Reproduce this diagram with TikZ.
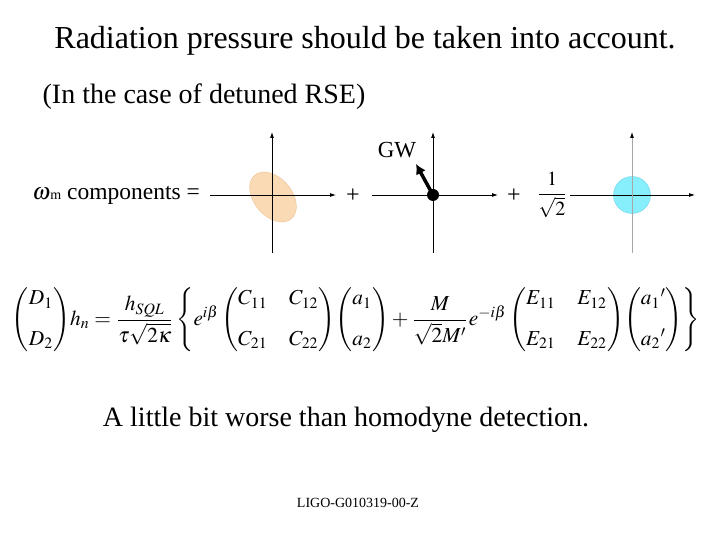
\documentclass[tikz,border=0pt]{standalone}
\usepackage{amsmath}
\usepackage{mathptmx}
\usepackage{fontspec}
\setmainfont{Liberation Serif}
\usetikzlibrary{arrows.meta}
\definecolor{peach}{RGB}{250,218,180}
\definecolor{peachline}{RGB}{235,195,150}
\definecolor{cyanfill}{RGB}{135,238,252}
\definecolor{cyanline}{RGB}{110,210,230}
\tikzset{
  axis/.style={line width=0.8pt,-{Latex[length=6pt,width=4pt]}},
  txt/.style={inner sep=0pt,anchor=center}
}
\begin{document}
\begin{tikzpicture}[x=1pt,y=1pt]
\useasboundingbox (0,0) rectangle (720,540);
\node[txt,font=\fontsize{32}{36}\selectfont] (title) at (365,499) {Radiation pressure should be taken into account.};
\node[txt,font=\fontsize{28}{32}\selectfont] (sub) at (204,443) {(In the case of detuned RSE)};
\node[txt,anchor=east,font=\fontsize{23.5}{26}\selectfont] (lab) at (200,345) {$\omega$\raisebox{0pt}{\fontsize{14}{16}\selectfont m} components =};
% diagram 1
\fill[peach,draw=peachline,rotate around={-50:(273,343)}] (273,343) ellipse (28.5 and 19);
\coordinate (a1l) at (210,345); \coordinate (a1r) at (336,345);
\coordinate (a1b) at (272,287); \coordinate (a1t) at (272,408);
\draw[axis] (a1l) -- (a1r);
\draw[axis] (a1b) -- (a1t);
\node[txt,font=\fontsize{24}{28}\selectfont] (p1) at (353,344) {+};
% diagram 2
\coordinate (a2l) at (372,345); \coordinate (a2r) at (498,345);
\coordinate (a2b) at (433,287); \coordinate (a2t) at (433,408);
\draw[axis] (a2l) -- (a2r);
\draw[axis] (a2b) -- (a2t);
\node[circle,fill=black,minimum size=12pt,inner sep=0pt] (dot) at (433,345) {};
\coordinate (gwtip) at (416,376);
\draw[line width=3.5pt,-{Latex[length=10pt,width=11pt]}] (dot.center) -- (gwtip);
\node[txt,font=\fontsize{23}{26}\selectfont] (gw) at (397,390) {GW};
\node[txt,font=\fontsize{24}{28}\selectfont] (p2) at (514,344) {+};
\node[txt,font=\fontsize{20}{24}\selectfont] (frac) at (552,345) {$\dfrac{1}{\sqrt{2}}$};
% diagram 3
\fill[cyanfill,draw=cyanline] (632,345) circle (18.5);
\coordinate (a3l) at (570,345); \coordinate (a3r) at (695,345);
\coordinate (a3b) at (632,287); \coordinate (a3t) at (632,408);
\draw[axis] (a3l) -- (a3r);
\draw[line width=0.8pt,draw=gray!70,arrows={-Latex[length=6pt,width=4pt,color=black]}] (a3b) -- (a3t);
% equation
\node[txt] (eq) at (356,220) {\resizebox{688pt}{!}{$\begin{pmatrix} D_1\\[7pt] D_2\end{pmatrix}\! h_n=\dfrac{h_{SQL}}{\tau\sqrt{2\kappa}}\left\{e^{i\beta}\begin{pmatrix} C_{11} & C_{12}\\[7pt] C_{21} & C_{22}\end{pmatrix}\!\begin{pmatrix} a_1\\[7pt] a_2\end{pmatrix}+\dfrac{M}{\sqrt{2}M'}e^{-i\beta}\begin{pmatrix} E_{11} & E_{12}\\[7pt] E_{21} & E_{22}\end{pmatrix}\!\begin{pmatrix} {a_1}'\\[7pt] {a_2}'\end{pmatrix}\right\}$}};
\node[txt,font=\fontsize{28}{32}\selectfont] (worse) at (346,120) {A little bit worse than homodyne detection.};
\node[txt,font=\fontsize{14}{16}\selectfont] (ligo) at (358,37) {LIGO-G010319-00-Z};
\end{tikzpicture}
\end{document}
